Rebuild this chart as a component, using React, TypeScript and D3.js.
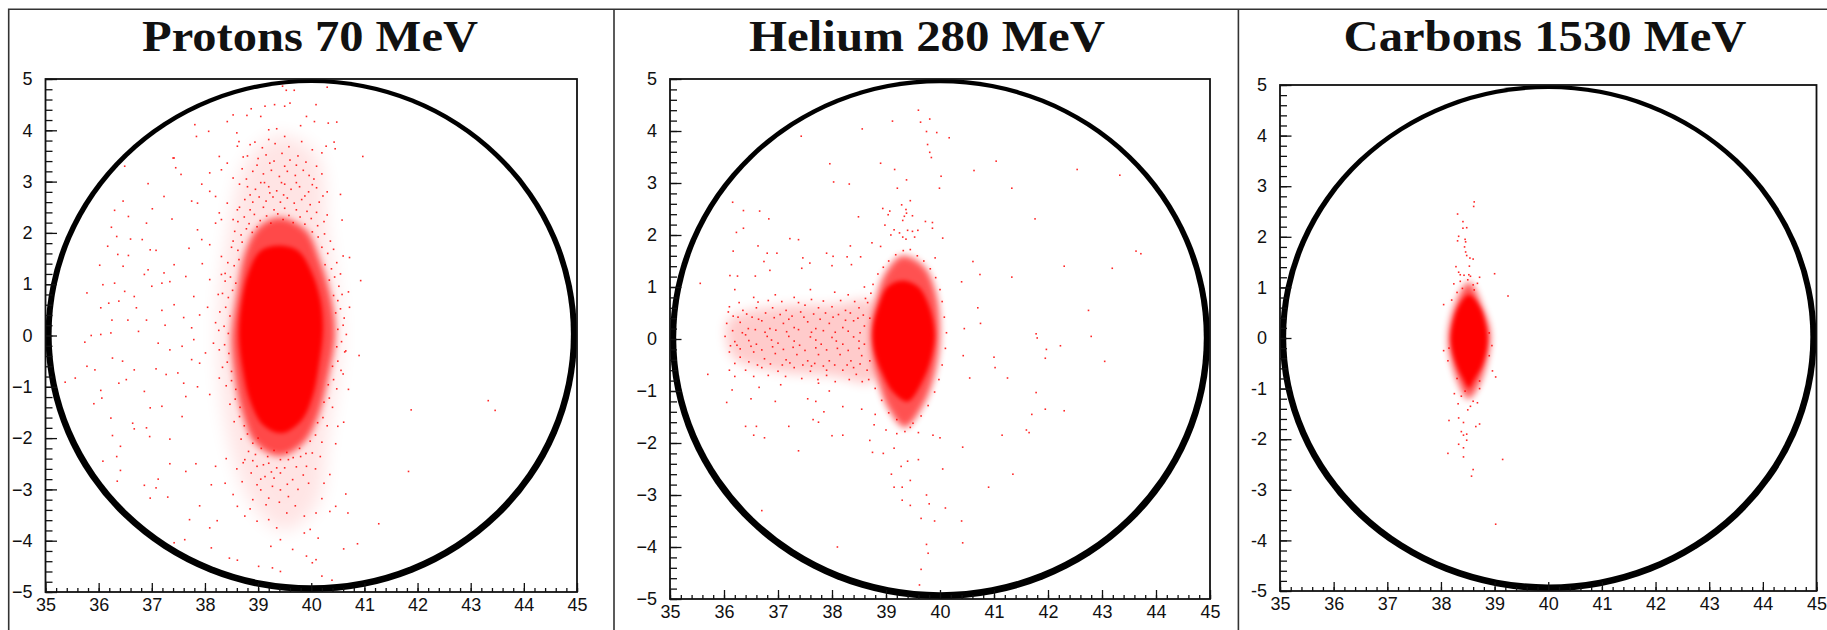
import React, { useEffect, useRef } from 'react';
import * as d3 from 'd3';

type Pt = [number, number];

const titles = ['Protons 70 MeV', 'Helium 280 MeV', 'Carbons 1530 MeV'];
const titleWidths = [336, 356, 403];
const xTicks = [35, 36, 37, 38, 39, 40, 41, 42, 43, 44, 45];
const yTicks = [-5, -4, -3, -2, -1, 0, 1, 2, 3, 4, 5];
const xMinor = d3.range(35, 45.01, 0.2);
const yMinor = d3.range(-5, 5.01, 0.2);
const ringCenter: Pt = [40, 0];

// solid core of each beam spot
const protonCore: Pt[] = [[39.4, 1.75], [39.75, 1.65], [40, 1.25], [40.17, 0.7], [40.22, 0.1], [40.14, -0.6], [40.02, -1.2], [39.82, -1.65], [39.45, -1.9], [39.1, -1.75], [38.86, -1.3], [38.72, -0.7], [38.64, 0], [38.7, 0.7], [38.83, 1.25], [39.05, 1.65]];
const protonHalo: Pt[] = [[39.4, 2.3], [39.9, 2.05], [40.15, 1.5], [40.38, 0.7], [40.45, 0], [40.32, -0.8], [40.12, -1.6], [39.85, -2.1], [39.4, -2.35], [38.95, -2.1], [38.7, -1.5], [38.55, -0.7], [38.5, 0], [38.6, 0.8], [38.75, 1.6], [39, 2.1]];
const protonFan: Pt[] = [[39.4, 3.9], [40.1, 3.5], [40.3, 2], [40.55, 0], [40.3, -2], [40.1, -3.3], [39.5, -3.8], [38.9, -3.3], [38.45, -2], [38.25, 0], [38.45, 2], [38.8, 3.4]];
const heliumCore: Pt[] = [[39.3, 1.12], [39.6, 1], [39.8, 0.62], [39.9, 0.1], [39.84, -0.35], [39.67, -0.82], [39.4, -1.2], [39.13, -1.02], [38.93, -0.65], [38.78, -0.2], [38.76, 0.2], [38.86, 0.62], [39.03, 1]];
const heliumHalo: Pt[] = [[39.3, 1.6], [39.7, 1.4], [39.92, 0.9], [40, 0.1], [39.92, -0.6], [39.7, -1.25], [39.35, -1.7], [39.05, -1.35], [38.85, -0.8], [38.72, 0], [38.78, 0.6], [38.98, 1.25]];
const heliumTail: Pt[] = [[36.1, 0.38], [37, 0.62], [38, 0.65], [38.8, 0.7], [38.8, -0.8], [38, -0.7], [37, -0.62], [36.2, -0.38], [36.05, 0]];
const carbonCore: Pt[] = [[38.52, 0.85], [38.72, 0.62], [38.84, 0.22], [38.86, -0.1], [38.78, -0.5], [38.62, -0.82], [38.52, -0.98], [38.42, -0.82], [38.28, -0.5], [38.19, -0.1], [38.21, 0.22], [38.33, 0.62]];
const carbonHalo: Pt[] = [[38.52, 1.1], [38.78, 0.6], [38.92, 0.1], [38.85, -0.5], [38.65, -1.05], [38.5, -1.2], [38.33, -0.9], [38.16, -0.3], [38.14, 0.1], [38.28, 0.7]];

const protonPoints: Pt[] = [
  [39.46, 4.86], [39.68, 4.78], [39.53, 4.78], [40.3, 4.84], [39.6, 4.53], [39.31, 4.5], [39.5, 4.47], [40.09, 4.5], [38.87, 4.42], [39.13, 4.47], [39.05, 4.27], [38.53, 4.3], [38.79, 4.29], [39.91, 4.27], [40.06, 4.17], [40.32, 4.14], [40.48, 4.16], [39.8, 4.09], [37.81, 4.11], [38.42, 4.17], [38.07, 3.98], [37.84, 3.88], [38.6, 3.95], [38.64, 3.78], [39.2, 4.01], [39.35, 4.03], [39.5, 3.88], [38.94, 3.77], [39.2, 3.82], [40.43, 3.77], [40.28, 3.69], [40.45, 3.64], [40.97, 3.49], [40.2, 3.56], [37.4, 3.46], [38.27, 3.49],
  [38.61, 3.69], [38.42, 3.36], [38.31, 3.23], [38.09, 3.17], [37.94, 2.95], [38.53, 3.07], [38.09, 2.81], [38.2, 2.71], [37.75, 2.62], [37.86, 2.58], [38.42, 2.58], [38.27, 2.39], [38.61, 2.45], [38.31, 2.26], [38.53, 2.26], [38.2, 2.19], [37.86, 2.06], [37.94, 1.87], [38.09, 1.77], [38.53, 1.84], [38.31, 1.54],
  [38.8, 3.5], [39, 3.45], [39.15, 3.52], [39.3, 3.4], [39.45, 3.55], [39.6, 3.42], [39.75, 3.5], [39.9, 3.38], [40.1, 3.3], [38.7, 3.25], [38.9, 3.2], [39.1, 3.15], [39.25, 3.22], [39.4, 3.1], [39.55, 3.2], [39.7, 3.12], [39.85, 3.22], [40.05, 3.05], [40.2, 3.15], [38.65, 2.95], [38.8, 2.9], [38.95, 2.85], [39.05, 2.98], [39.2, 2.9], [39.35, 2.82], [39.5, 2.95], [39.62, 2.85], [39.78, 2.9], [39.95, 2.8], [40.1, 2.88], [40.3, 2.8], [40.55, 2.75], [38.75, 2.65], [38.9, 2.6], [39.02, 2.7], [39.15, 2.62], [39.28, 2.7], [39.42, 2.6], [39.55, 2.68], [39.68, 2.58], [39.82, 2.65], [39.98, 2.55], [40.15, 2.6], [38.65, 2.5], [38.85, 2.45], [39.1, 2.5], [39.3, 2.45], [39.5, 2.48], [39.72, 2.45], [39.92, 2.42], [40.1, 2.4], [40.3, 2.35], [40.58, 2.25], [40.6, 1.55], [40.72, 1.52], [40.93, 1.07], [40.55, 1.2], [40.7, 0.85], [40.72, 0.55],
  [36.49, 3.3], [36.93, 2.96], [37.42, 3.46], [37.45, 3.27], [37.55, 3.14], [37.23, 2.71], [36.46, 2.62], [37.01, 2.47], [36.3, 2.44], [36.56, 2.32], [36.9, 2.19], [37.38, 2.27], [36.24, 2.11], [36.6, 1.88], [36.34, 1.93], [36.17, 1.74], [36.82, 1.87], [36.97, 1.67], [37.08, 1.66], [36.36, 1.58], [36.56, 1.56], [36.02, 1.37], [36.46, 1.35], [36.93, 1.28], [37.42, 1.38], [37.23, 1.22], [36.86, 1.19], [36.08, 0.99], [35.78, 0.83], [36.3, 1.02], [36.49, 0.86], [36.67, 0.76], [37.19, 1.02], [37.34, 1.05], [37.64, 1.15], [37, 0.96], [36.19, 0.63], [36.04, 0.54], [36.38, 0.67], [36.71, 0.54], [37.19, 0.49], [37.42, 0.6], [37.79, 0.76], [38.09, 1.09], [38.31, 1.19], [38.38, 1.21], [37.6, 0.35], [37.9, 0.4], [38.05, 0.55], [38.2, 0.25], [36.9, 0.3], [36.55, 0.3], [36.25, 0.3], [37.25, 0.2], [37.75, 0.15], [38.25, 0.8], [37.95, 1.4], [37.7, 1.7],
  [35.86, 0], [35.74, -0.13], [36.04, 0.02], [36.23, 0.05], [36.26, -0.44], [36.45, -0.5], [35.78, -0.6], [35.93, -0.67], [35.37, -0.91], [35.56, -0.83], [36.04, -1.07], [35.91, -1.33], [36.06, -1.22], [36.38, -0.93], [36.52, -0.86], [36.67, -0.67], [36.86, -1.09], [37.08, -0.65], [37.27, -0.76], [37.49, -0.73], [37.6, -0.93], [36.75, 0.08], [37.12, -0.15], [37.34, -0.28], [37.57, -0.21], [37.79, -0.08], [38.01, -0.34], [38.16, -0.15], [37.75, -0.47], [37.9, -0.54], [38.27, -0.83], [38.09, -1.15], [37.64, -1.19], [37.86, -1], [37.19, -1.38], [36.97, -1.41], [36.23, -1.61], [36.64, -1.71], [36.9, -1.8], [36.96, -1.97], [36.67, -1.82], [36.26, -1.95], [37.34, -2.02], [37.57, -1.58], [36.41, -2.16], [36.34, -2.36], [36.08, -2.45], [36.41, -2.63], [36.35, -2.84], [37.34, -2.5], [37.64, -2.65], [37.83, -2.5], [37.12, -2.8], [36.86, -2.92], [37.08, -2.97], [36.97, -3.17], [37.3, -3.15], [37.71, -3.59], [37.9, -3.32], [37.42, -4.04], [37.62, -3.98], [38.12, -4.14], [38.23, -3.61], [38.09, -3.75], [38.46, -4.34], [38.61, -4.38], [38.2, -2.55], [38.12, -2.91], [38.38, -2.88], [38.53, -3.1], [38.61, -3.33], [38.75, -3.52], [38.98, -3.62], [39.2, -3.59], [39.35, -3.75], [39.54, -3.46], [39.87, -3.52], [40.09, -3.46], [40.46, -3.33], [40.35, -3.43], [40.69, -3.46], [40.65, -3.09], [40.24, -2.88], [40.35, -2.71], [40.46, -2.11], [40.61, -1.69], [40.5, -1.77], [39.87, -3.85], [40.13, -3.95], [39.98, -3.78], [39.24, -4.11], [39.42, -3.98], [39.65, -4.17], [39.91, -4.3], [40.02, -4.43], [40.09, -4.37], [40.61, -4.16], [39.01, -4.5], [39.27, -4.53], [39.42, -4.6], [40.2, -4.69], [40.39, -4.77],
  [38.75, -2.42], [38.98, -2.55], [39.2, -2.49], [39.35, -2.58], [39.57, -2.42], [39.8, -2.36], [40.02, -2.29], [40.17, -2.36], [38.87, -2.68], [39.13, -2.75], [39.42, -2.68], [39.65, -2.81], [39.91, -2.55], [38.98, -2.91], [39.27, -2.94], [39.42, -3.01], [39.2, -3.17], [39.57, -3.14], [39.05, -3.01], [38.9, -3.2], [38.6, -2.6], [38.4, -2.4], [38.7, -2.85],
  [41.88, -1.45], [43.33, -1.27], [43.46, -1.46], [41.83, -2.65], [41.27, -3.67], [40.87, -4.06], [40.9, -0.39], [40.65, -0.3], [40.7, -1.05], [40.6, -0.75]
];

// speckle round the proton spot, denser than the far scatter above
const protonRim: Pt[] = [
  [38.62, 2.22], [38.74, 2.31], [38.83, 2.18], [38.93, 2.36], [39.04, 2.24], [39.16, 2.33], [39.24, 2.19], [39.37, 2.37], [39.47, 2.26], [39.58, 2.34], [39.66, 2.2], [39.79, 2.31], [39.88, 2.17], [40, 2.28], [40.12, 2.14], [40.24, 2.22], [38.56, 2.03], [38.68, 1.96], [38.78, 2.08], [38.89, 2.01], [38.98, 2.12], [40.02, 2.02], [40.13, 1.92], [40.25, 1.98], [40.36, 1.84], [38.5, 1.72], [38.62, 1.66], [38.7, 1.82], [40.2, 1.72], [40.31, 1.6], [40.42, 1.68], [38.43, 1.42], [38.55, 1.36], [38.64, 1.48], [40.26, 1.38], [40.38, 1.3], [40.48, 1.42], [38.38, 1.06], [38.48, 1.14], [38.58, 1.02], [40.34, 1.08], [40.44, 1.14], [40.52, 0.96], [38.33, 0.82], [38.44, 0.74], [38.52, 0.88], [40.42, 0.78], [40.5, 0.68], [40.58, 0.8], [38.28, 0.46], [38.39, 0.55], [38.47, 0.38], [40.46, 0.44], [40.55, 0.52], [40.62, 0.34], [38.26, 0.1], [38.36, 0.18], [38.44, 0.04], [40.5, 0.12], [40.6, 0.2], [40.66, 0.02], [38.27, -0.28], [38.37, -0.18], [38.45, -0.35], [40.48, -0.22], [40.57, -0.12], [40.63, -0.32], [38.33, -0.62], [38.42, -0.52], [38.5, -0.7], [40.4, -0.6], [40.5, -0.5], [40.56, -0.68], [38.4, -0.98], [38.5, -0.88], [38.58, -1.05], [40.32, -0.96], [40.42, -0.86], [40.48, -1.04], [38.47, -1.34], [38.57, -1.24], [38.66, -1.4], [40.24, -1.3], [40.34, -1.22], [40.4, -1.4], [38.55, -1.68], [38.65, -1.58], [38.74, -1.76], [40.12, -1.7], [40.22, -1.6], [40.3, -1.76], [38.68, -2.02], [38.8, -1.92], [38.9, -2.1], [39, -2], [39.98, -2.06], [40.08, -1.94], [40.2, -2.08], [38.82, -2.26], [38.95, -2.32], [39.06, -2.2], [39.18, -2.36], [39.3, -2.24], [39.42, -2.42], [39.54, -2.28], [39.66, -2.38], [39.78, -2.2], [39.9, -2.3], [38.72, -2.48], [38.9, -2.44], [39.1, -2.52], [39.25, -2.66], [39.5, -2.58], [39.72, -2.56], [39.85, -2.72], [40.08, -2.6], [39.05, -2.8], [39.3, -2.78], [39.55, -2.9], [39.75, -3], [39.95, -2.88], [39.15, -3.3], [39.4, -3.25], [39.7, -3.32], [38.85, -3.38], [40.2, -3.18],
  [38.85, 3.72], [39.08, 3.66], [39.32, 3.74], [39.58, 3.68], [39.82, 3.78], [40.02, 3.62], [38.72, 3.48], [38.98, 3.32], [39.22, 3.36], [39.5, 3.3], [39.72, 3.32], [39.96, 3.12], [38.78, 3.05], [39.12, 2.98], [39.44, 2.98], [39.72, 2.98], [40.02, 2.94], [38.85, 2.74], [39.22, 2.78], [39.48, 2.74], [39.88, 2.72], [40.22, 2.72]
];

const heliumPoints: Pt[] = [
  [39.6, 4.4], [39.81, 4.23], [39.12, 4.19], [39.64, 4.17], [38.56, 4.04], [39.75, 3.99], [39.94, 3.97], [40.17, 3.87], [37.43, 3.9], [39.77, 3.74], [39.81, 3.59], [39.84, 3.49], [38.9, 3.38], [41.04, 3.42], [37.96, 3.37], [39.16, 3.26], [40.63, 3.24], [42.54, 3.26], [43.33, 3.15], [40.02, 3.13], [38.03, 3.02], [38.32, 2.98], [39.38, 3.06], [39.21, 2.9], [39.99, 2.9], [41.33, 2.9], [39.45, 2.66], [39.29, 2.58], [36.16, 2.63], [36.36, 2.47], [36.66, 2.46], [38.94, 2.51], [39.37, 2.49], [39.38, 2.42], [39.07, 2.46], [39.04, 2.39], [39.34, 2.36], [39.49, 2.37], [38.49, 2.35], [36.83, 2.31], [41.76, 2.31], [39.31, 2.28], [39.73, 2.26], [39.86, 2.24], [36.36, 2.13], [36.23, 2.05], [38.98, 2.19], [39.86, 2.13], [39.15, 2.1], [39.09, 2], [39.25, 2.04], [39.4, 2.09], [39.49, 2.07], [39.59, 2.09], [39.31, 1.96], [39.37, 1.92], [39.53, 1.96], [40.05, 1.94], [37.22, 1.93], [37.38, 1.91], [38.74, 1.85], [38.9, 1.78], [36.63, 1.79], [38.34, 1.79], [36.17, 1.69], [36.8, 1.65], [36.98, 1.65], [43.63, 1.69], [43.72, 1.64], [37.9, 1.65], [38.02, 1.59], [37.46, 1.56], [38.28, 1.58], [38.53, 1.58], [39.91, 1.56], [36.74, 1.49], [40.61, 1.49], [37.59, 1.46], [38.36, 1.43], [38, 1.41], [42.3, 1.4], [43.19, 1.36], [37.44, 1.36], [36.85, 1.32], [40.74, 1.24], [36.11, 1.22], [36.25, 1.21], [36.58, 1.21], [41.33, 1.19],
  [35.56, 1.07], [36.2, 0.95], [36.55, 0.8], [36.95, 0.85], [37.3, 0.8], [37.6, 0.95], [38.05, 0.9], [38.3, 0.85], [38.6, 1], [40.4, 1.1], [40.7, 0.6], [42.75, 0.55], [40.75, 0.3], [36.1, 0.62], [36.35, 0.55], [36.6, 0.6], [36.9, 0.6], [37.15, 0.55], [37.5, 0.65], [37.75, 0.6], [38, 0.62], [38.25, 0.55], [38.5, 0.6], [36.05, 0.3], [36.3, 0.32], [36.45, 0.2], [36.7, 0.35], [36.85, 0.2], [37.1, 0.3], [37.3, 0.22], [37.55, 0.33], [37.7, 0.2], [37.95, 0.3], [38.2, 0.22], [38.4, 0.35], [38.6, 0.25], [36.02, 0.05], [36.2, -0.05], [36.4, 0.08], [36.6, -0.1], [36.8, 0.05], [37, -0.08], [37.2, 0.05], [37.4, -0.12], [37.6, 0.04], [37.8, -0.1], [38, 0.03], [38.2, -0.1], [38.4, 0.04], [38.6, -0.1], [36.1, -0.25], [36.3, -0.35], [36.55, -0.25], [36.75, -0.38], [36.95, -0.28], [37.15, -0.4], [37.35, -0.3], [37.55, -0.42], [37.75, -0.3], [37.95, -0.42], [38.15, -0.3], [38.35, -0.42], [38.55, -0.32], [36.1, -0.6], [36.4, -0.6], [36.7, -0.55], [37, -0.62], [37.3, -0.55], [37.6, -0.62], [37.9, -0.7], [38.2, -0.6], [38.45, -0.68], [38.65, -0.6],
  [35.7, -0.68], [36.15, -0.98], [36.65, -0.93], [37.05, -0.88], [37.55, -1.15], [37.75, -0.85], [37.95, -1], [36.05, -1.22], [36.5, -1.15], [36.95, -1.2], [37.7, -1.2], [38.2, -1.3], [38.55, -1.35], [36.4, -1.68], [36.6, -1.68], [36.75, -1.9], [36.55, -1.85], [37.2, -1.68], [37.65, -1.55], [37.75, -1.6], [37.85, -1.4], [38.8, -1.45], [38.78, -1.65], [38.7, -1.95], [38.75, -2.18], [38.95, -2.2], [39.15, -2.1], [39.28, -2.45], [39.4, -2.35], [39.6, -2.32], [39, -1.75], [39.2, -1.82], [39.45, -1.7], [39.6, -1.8], [39.87, -1.85], [37.38, -2.15], [38, -1.86], [38.2, -1.85], [36.7, -3.3], [38.1, -4], [39.1, -2.6], [39.15, -2.85], [39.3, -2.85], [39.45, -2.72], [39.3, -3.1], [39.45, -3.2], [39.75, -3], [39.8, -3.17], [40.1, -3.25], [39.9, -3.5], [40.4, -3.5], [39.65, -3.45], [39.75, -3.95], [39.78, -4.12], [39.65, -4.43], [39.62, -4.73], [40.42, -3.92], [40.05, -2.5], [41.35, -2.6], [40.9, -2.85], [40.42, -2.08], [40, -1.9], [41.15, -1.85], [41.6, -1.75], [41.65, -1.8], [41.7, -1.45], [41.95, -1.35], [42.3, -1.38], [41.78, -1.03], [41.02, -0.55], [40.55, -0.75], [41, -0.35], [40.43, -0.32], [41.25, -0.75], [41.95, -0.37], [41.97, -0.2], [42.23, -0.13], [43.05, -0.43], [41.78, 0.1], [41.8, 0.02], [42.8, 0.05], [40.45, 0.2]
];

// speckle in the helium tail and round its spot
const heliumRim: Pt[] = [
  [36.17, 0.44], [36.42, 0.48], [36.52, 0.42], [36.77, 0.5], [37.04, 0.47], [37.26, 0.44], [37.42, 0.52], [37.66, 0.48], [37.88, 0.5], [38.12, 0.47], [38.34, 0.5], [38.58, 0.46], [36.16, 0.16], [36.34, 0.12], [36.58, 0.18], [36.76, 0.13], [36.96, 0.17], [37.16, 0.14], [37.38, 0.18], [37.62, 0.13], [37.84, 0.16], [38.06, 0.13], [38.3, 0.15], [38.52, 0.12], [36.12, -0.13], [36.3, -0.19], [36.5, -0.14], [36.7, -0.21], [36.9, -0.15], [37.1, -0.2], [37.28, -0.16], [37.5, -0.22], [37.7, -0.17], [37.9, -0.21], [38.1, -0.18], [38.3, -0.22], [38.5, -0.18], [36.2, -0.47], [36.46, -0.44], [36.62, -0.5], [36.86, -0.48], [37.08, -0.5], [37.22, -0.46], [37.46, -0.5], [37.68, -0.47], [37.84, -0.52], [38.05, -0.5], [38.28, -0.5], [38.52, -0.48], [38.7, -0.42], [38.7, 0.4], [38.66, 0.7], [38.72, 0.88], [38.76, 1.05], [38.85, 1.25], [38.95, 1.38], [39.05, 1.5], [39.18, 1.62], [39.32, 1.7], [39.45, 1.72], [39.58, 1.6], [39.7, 1.5], [39.82, 1.35], [39.92, 1.18], [40, 0.95], [40.04, 0.72], [40.08, 0.42], [40.12, 0.12], [40.1, -0.18], [40.04, -0.5], [39.98, -0.78], [39.9, -1.02], [39.78, -1.28], [39.65, -1.48], [39.5, -1.62], [39.35, -1.78], [39.2, -1.55], [39.05, -1.42], [38.92, -1.18], [38.8, -0.95], [38.68, -0.78],
  [36.08, 0.52], [36.28, 0.7], [36.63, 0.71], [36.82, 0.74], [37.07, 0.72], [37.38, 0.7], [37.62, 0.76], [37.84, 0.73], [38.16, 0.74], [38.42, 0.72], [38.62, 0.78], [36.26, 0.42], [36.64, 0.38], [36.93, 0.41], [37.2, 0.38], [37.48, 0.42], [37.78, 0.38], [38.02, 0.42], [38.25, 0.36], [38.48, 0.4], [36.24, -0.12], [36.46, -0.03], [36.88, -0.02], [37.3, -0.04], [37.7, -0.02], [38.08, -0.04], [38.5, -0.04], [36.2, -0.72], [36.55, -0.72], [36.82, -0.7], [37.14, -0.72], [37.44, -0.76], [37.74, -0.78], [38.06, -0.82], [38.32, -0.78], [38.56, -0.82], [37.9, -0.6], [37.62, -0.52], [38.4, -0.55]
];

const carbonPoints: Pt[] = [
  [38.62, 2.69], [38.61, 2.6], [38.31, 2.45], [38.41, 2.3], [38.48, 2.18], [38.41, 2.17], [38.45, 1.95], [38.33, 2.01], [38.31, 1.92], [38.46, 1.9], [38.44, 1.8], [38.46, 1.7], [38.48, 1.63], [38.54, 1.58], [38.6, 1.56], [38.28, 1.41], [38.53, 1.42], [38.33, 1.3], [39.0, 1.27], [38.36, 1.25], [38.43, 1.24], [38.52, 1.25], [38.55, 1.22], [38.72, 1.2], [38.24, 1.07], [38.36, 1.12], [38.5, 1.15], [38.6, 1.05], [38.68, 1.08], [39.25, 0.83], [38.05, 0.66], [38.2, 0.75], [38.3, 0.9], [38.4, 0.98], [38.62, 0.95],
  [38.15, -0.2], [38.05, -0.25], [38.13, -0.45], [38.96, -0.65], [38.9, -0.35], [38.95, -0.15], [38.9, 0.1], [38.3, -0.8], [38.25, -1.1], [38.32, -1.3], [38.38, -1.15], [38.45, -1.05], [38.55, -1.35], [38.6, -1.25], [38.68, -1.28], [38.5, -1.42], [38.72, -1], [38.72, -0.85], [39.02, -0.77], [38.15, -1.63], [38.33, -1.58], [38.42, -1.67], [38.65, -1.75], [38.72, -1.7], [38.38, -1.85], [38.42, -1.92], [38.48, -1.9], [38.48, -2.02], [38.33, -2.1], [38.42, -2.17], [38.13, -2.28], [38.42, -2.35], [39.15, -2.4], [38.6, -2.6], [38.57, -2.73], [39.02, -3.68]
];

const panels = [
  { cx: 310, left: 45.5, right: 577, top: 79, bottom: 592, minus: '\u2212', core: protonCore, halo: protonHalo, wide: protonFan, tail: null as Pt[] | null, points: protonPoints.concat(protonRim) },
  { cx: 927, left: 670, right: 1210, top: 79, bottom: 599, minus: '\u2212', core: heliumCore, halo: heliumHalo, wide: null as Pt[] | null, tail: heliumTail, points: heliumPoints.concat(heliumRim) },
  { cx: 1545, left: 1280, right: 1816.5, top: 85, bottom: 591, minus: '-', core: carbonCore, halo: carbonHalo, wide: null as Pt[] | null, tail: null as Pt[] | null, points: carbonPoints }
];

const App = () => {
  const svgRef = useRef<SVGSVGElement>(null);

  useEffect(() => {
    const svg = d3.select(svgRef.current);
    svg.selectAll('*').remove();

    // soft edges for the density bands
    const defs = svg.append('defs');
    [['blurCore', 2], ['blurHalo', 3.5], ['blurTail', 6], ['blurWide', 9]].forEach(([id, dev]) => {
      defs.append('filter')
        .attr('id', id)
        .attr('x', '-40%').attr('y', '-40%').attr('width', '180%').attr('height', '180%')
        .append('feGaussianBlur')
        .attr('stdDeviation', dev);
    });

    // outer table rules
    svg.append('path')
      .attr('d', 'M8.7,630V9.3H1827M614,9.3V630M1238.4,9.3V630')
      .attr('fill', 'none')
      .attr('stroke', '#333')
      .attr('stroke-width', 1.6);

    panels.forEach((p, i) => {
      const x = d3.scaleLinear().domain([35, 45]).range([p.left, p.right]);
      const y = d3.scaleLinear().domain([-5, 5]).range([p.bottom, p.top]);
      const g = svg.append('g');

      g.append('text')
        .attr('x', p.cx)
        .attr('y', 50.5)
        .attr('text-anchor', 'middle')
        .attr('font-family', '"Liberation Serif", serif')
        .attr('font-weight', 'bold')
        .attr('font-size', 45)
        .attr('textLength', titleWidths[i])
        .attr('lengthAdjust', 'spacingAndGlyphs')
        .attr('fill', '#111')
        .text(titles[i]);

      // detector ring: black disc with an offset white disc on top
      g.append('ellipse')
        .attr('cx', x(ringCenter[0]))
        .attr('cy', y(ringCenter[1]))
        .attr('rx', x(45) - x(40))
        .attr('ry', y(0) - y(5))
        .attr('fill', '#000');
      g.append('ellipse')
        .attr('cx', x(ringCenter[0]))
        .attr('cy', y(0.025))
        .attr('rx', x(44.885) - x(40))
        .attr('ry', y(0) - y(4.895))
        .attr('fill', '#fff');

      const blob = d3.line<Pt>()
        .x(d => x(d[0]))
        .y(d => y(d[1]))
        .curve(d3.curveCatmullRomClosed);

      if (p.wide) g.append('path').attr('d', blob(p.wide)).attr('fill', '#f00').attr('opacity', 0.1).attr('filter', 'url(#blurWide)');
      if (p.tail) g.append('path').attr('d', blob(p.tail)).attr('fill', '#f00').attr('opacity', 0.2).attr('filter', 'url(#blurTail)');
      g.append('path').attr('d', blob(p.halo)).attr('fill', '#f00').attr('opacity', 0.68).attr('filter', 'url(#blurHalo)');
      g.append('path').attr('d', blob(p.core)).attr('fill', '#f00').attr('filter', 'url(#blurCore)');

      g.append('g')
        .selectAll('rect')
        .data(p.points)
        .join('rect')
        .attr('x', d => x(d[0]) - 0.8)
        .attr('y', d => y(d[1]) - 0.8)
        .attr('width', 1.6)
        .attr('height', 1.6)
        .attr('fill', '#f00')
        .attr('opacity', 0.85);

      // plot frame
      g.append('rect')
        .attr('x', p.left)
        .attr('y', p.top)
        .attr('width', p.right - p.left)
        .attr('height', p.bottom - p.top)
        .attr('fill', 'none')
        .attr('stroke', '#111')
        .attr('stroke-width', 1.8);

      const fmt = (v: number) => (v < 0 ? p.minus + Math.abs(v) : String(v));

      // minor ticks first, then labelled majors; both point into the plot
      const style = (a: any) => {
        a.select('.domain').remove();
        a.selectAll('line').attr('stroke', '#111').attr('stroke-width', 1.3);
        a.selectAll('text')
          .attr('font-family', '"Liberation Sans", Arial, sans-serif')
          .attr('font-size', 18)
          .attr('fill', '#111');
      };

      const xg = g.append('g').attr('transform', `translate(0,${p.bottom})`) as any;
      xg.append('g').call(d3.axisBottom(x).tickValues(xMinor).tickSize(-4).tickFormat(() => '')).call(style);
      xg.append('g').call(d3.axisBottom(x).tickValues(xTicks).tickSize(-9).tickPadding(6).tickFormat(d => String(d))).call(style);

      const yg = g.append('g').attr('transform', `translate(${p.left},0)`) as any;
      yg.append('g').call(d3.axisLeft(y).tickValues(yMinor).tickSize(-7).tickFormat(() => '')).call(style);
      yg.append('g').call(d3.axisLeft(y).tickValues(yTicks).tickSize(-11.5).tickPadding(13).tickFormat(d => fmt(+d))).call(style);
    });
  }, []);

  return (
    <svg
      ref={svgRef}
      width={1827}
      height={630}
      style={{ position: 'absolute', left: 0, top: 0, display: 'block', background: '#fff' }}
    />
  );
};

export default App;
